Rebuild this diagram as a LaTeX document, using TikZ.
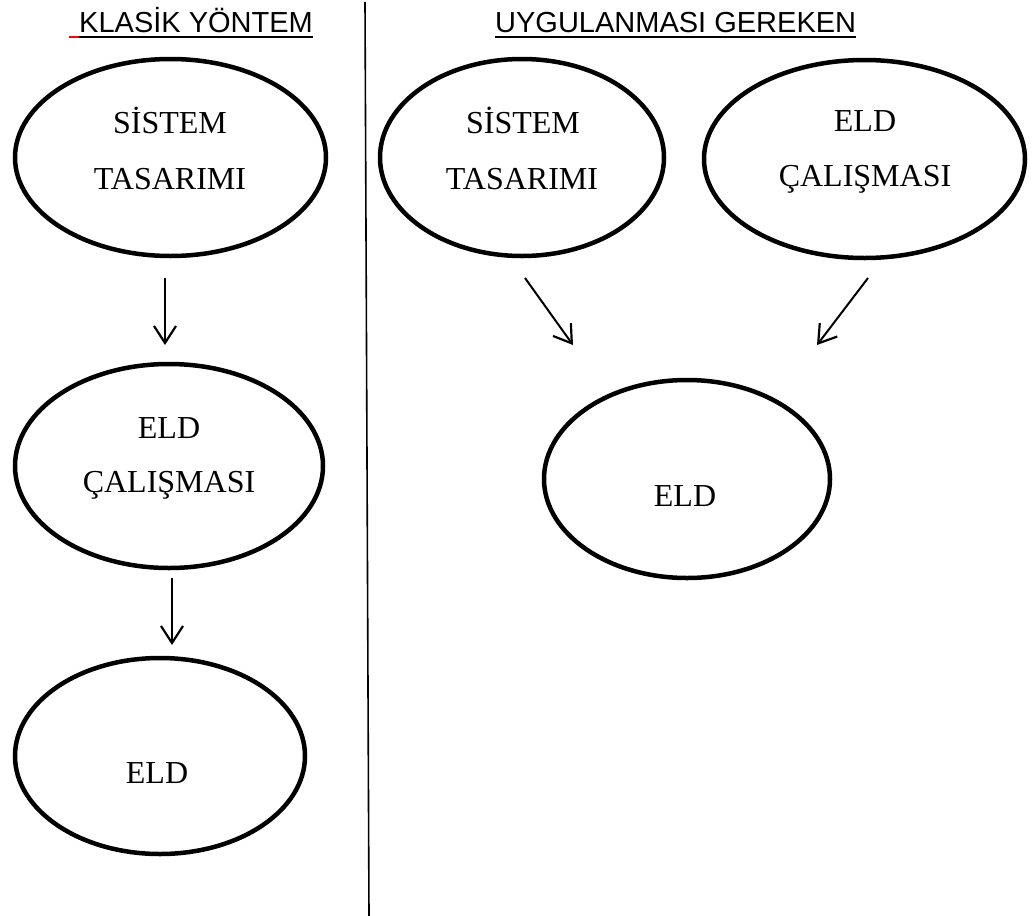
\documentclass[tikz,border=0pt]{standalone}
\usepackage{fontspec}
\setmainfont{Liberation Serif}
\newfontfamily\arialfont{Liberation Sans}
\usetikzlibrary{shapes.geometric,arrows.meta}
\tikzset{
  oval/.style={ellipse, draw=black, line width=4.5pt, inner sep=0pt},
  etext/.style={anchor=base, inner sep=0pt, font=\fontsize{32}{38}\selectfont},
  ttext/.style={anchor=base west, inner sep=0pt, font=\arialfont\fontsize{29}{35}\selectfont},
  flow/.style={line width=2pt, -{Straight Barb[length=17pt,width=22pt,line width=2.2pt]}},
  uline/.style={line width=2.5pt},
}
\begin{document}
\begin{tikzpicture}[x=1pt,y=-1pt]
\useasboundingbox (0,0) rectangle (1034,916);
% titles
\node[ttext] (t1) at (79,32) {KLASİK YÖNTEM};
\node[ttext] (t2) at (495,32) {UYGULANMASI GEREKEN};
\draw[uline, red] (69,37) -- (t1.base west |- 0,37);
\draw[uline] (t1.base west |- 0,37) -- (t1.base east |- 0,37);
\draw[uline] (t2.base west |- 0,37) -- (t2.base east |- 0,37);
% divider
\coordinate (d1) at (365,2);
\coordinate (d2) at (369,916);
\draw[line width=1.6pt] (d1) -- (d2);
% ellipses
\node[oval, minimum width=311pt, minimum height=197pt] (e1) at (170.5,157.5) {};
\node[oval, minimum width=308pt, minimum height=204pt] (e2) at (169,466) {};
\node[oval, minimum width=290pt, minimum height=196pt] (e3) at (160,756) {};
\node[oval, minimum width=284pt, minimum height=197pt] (e4) at (522,157.5) {};
\node[oval, minimum width=321pt, minimum height=198pt] (e5) at (864.5,159) {};
\node[oval, minimum width=286pt, minimum height=198pt] (e6) at (687,479) {};
% texts
\node[etext] (s1a) at (170,133) {SİSTEM};
\node[etext] (s1b) at (170,189) {TASARIMI};
\node[etext] (s2a) at (169,438) {ELD};
\node[etext] (s2b) at (169,492) {ÇALIŞMASI};
\node[etext] (s3) at (157,783) {ELD};
\node[etext] (s4a) at (523,133) {SİSTEM};
\node[etext] (s4b) at (522,189) {TASARIMI};
\node[etext] (s5a) at (865,131) {ELD};
\node[etext] (s5b) at (865,186) {ÇALIŞMASI};
\node[etext] (s6) at (685,506) {ELD};
% arrows
\coordinate (a1s) at (165,278); \coordinate (a1e) at (165,345);
\coordinate (a2s) at (172,578); \coordinate (a2e) at (172,645);
\coordinate (a3s) at (525,278); \coordinate (a3e) at (573,345);
\coordinate (a4s) at (868,278); \coordinate (a4e) at (817,345);
\draw[flow] (a1s) -- (a1e);
\draw[flow] (a2s) -- (a2e);
\draw[flow] (a3s) -- (a3e);
\draw[flow] (a4s) -- (a4e);
\end{tikzpicture}
\end{document}
